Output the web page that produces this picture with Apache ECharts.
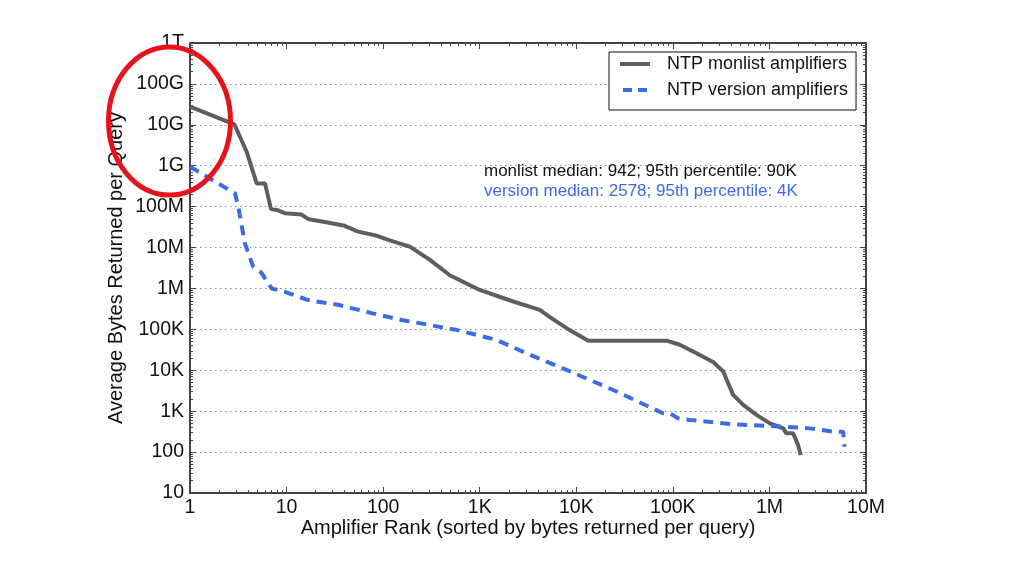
<!DOCTYPE html>
<html>
<head>
<meta charset="utf-8">
<script src="https://cdn.jsdelivr.net/npm/echarts@6/dist/echarts.min.js"></script>
<style>html,body{margin:0;padding:0;background:#fff}#c{width:1024px;height:576px}</style>
</head>
<body>
<div id="c"></div>
<script>
const xTickLabels = ['1','10','100','1K','10K','100K','1M','10M'];
const yTickLabels = ['10','100','1K','10K','100K','1M','10M','100M','1G','10G','100G','1T'];

const monlistRank  = [1, 2.88, 3.86, 4.9, 5.98, 6.9, 7.9, 9.6, 14.3, 17, 25, 40, 55, 82, 117, 189, 305, 490, 1000, 2220, 4200, 5330, 7940, 13300, 86000, 118000, 176000, 261000, 332000, 374000, 421000, 535000, 735000, 1010000, 1390000, 1500000, 1760000, 1980000, 2110000];
const monlistBytes = [2.8e10, 1.03e10, 2.2e9, 3.7e8, 3.7e8, 8.7e7, 8.3e7, 6.9e7, 6.4e7, 4.9e7, 4.2e7, 3.4e7, 2.45e7, 2.0e7, 1.5e7, 1.05e7, 5.0e6, 2.1e6, 9.2e5, 4.8e5, 3.0e5, 2.0e5, 1.07e5, 5.3e4, 5.3e4, 4.2e4, 2.6e4, 1.6e4, 9.3e3, 4.8e3, 2.5e3, 1.42e3, 810, 505, 380, 288, 288, 148, 85];

const versionRank  = [1, 2.93, 3.16, 3.7, 4.5, 5.5, 7.0, 9.6, 16.7, 34, 76, 155, 575, 1500, 3300, 7940, 24100, 79000, 93000, 113000, 150000, 421000, 1390000, 2620000, 4570000, 5800000, 6000000];
const versionBytes = [9.5e8, 2.1e8, 1.0e8, 1.27e7, 3.4e6, 2.4e6, 1.0e6, 8.3e5, 5.2e5, 4.0e5, 2.5e5, 1.7e5, 9.7e4, 5.5e4, 2.4e4, 1.02e4, 3.3e3, 890, 890, 670, 610, 480, 420, 380, 316, 316, 135];

const seriesNames = ['NTP monlist amplifiers', 'NTP version amplifiers'];
const noteLines = ['monlist median: 942; 95th percentile: 90K', 'version median: 2578; 95th percentile: 4K'];

const xMin = 1, xMax = 1e7, yMin = 10, yMax = 1e12;
function majors(lo, hi){ const a=[]; for(let v=lo; v<=hi*1.0001; v*=10) a.push(v); return a; }
function minors(lo, hi){ const a=[]; for(let v=lo; v<hi*0.9999; v*=10){ for(let k=2;k<=9;k++) a.push(v*k);} return a; }

const FONT = 'Liberation Sans';
const AX = '#444';
const BLUE = '#3d6be6';
const GRAY = '#5e5e5e';

function axis(kind, pos, isMain, isMinor){
  const lo = kind==='x'?xMin:yMin, hi = kind==='x'?xMax:yMax;
  const labels = kind==='x'?xTickLabels:yTickLabels;
  const off = kind==='x'?0:1;
  const o = {
    type:'log', logBase:10, min:lo, max:hi, position:pos,
    axisLine:{show:!isMinor, lineStyle:{color:AX, width:2}},
    axisTick:{show:true, inside:true, length:isMinor?3:6, lineStyle:{color:AX, width:1},
              customValues: isMinor?minors(lo,hi):majors(lo,hi)},
    axisLabel:{show:isMain, customValues: majors(lo,hi), margin: kind==='x'?5:6,
               fontFamily:FONT, fontSize:19.5, color:'#111',
               formatter: v => labels[Math.round(Math.log10(v)) - off]},
    splitLine:{show: isMain && kind==='y', lineStyle:{color:'#8a8a8a', width:1, type:[1.5,3.5]}},
    minorTick:{show:false}
  };
  if (isMain) {
    o.name = kind==='x' ? 'Amplifier Rank (sorted by bytes returned per query)' : 'Average Bytes Returned per Query';
    o.nameLocation = 'middle';
    o.nameMoveOverlap = false;
    o.nameGap = kind==='x' ? 25 : 64;
    o.nameTextStyle = {fontFamily:FONT, fontSize:20, color:'#111'};
  }
  return o;
}

const chart = echarts.init(document.getElementById('c'), null, {renderer:'canvas'});
chart.setOption({
  animation:false,
  backgroundColor:'#fff',
  grid:{left:190, right:158, top:43, bottom:83, containLabel:false},
  xAxis:[axis('x','bottom',true,false), axis('x','bottom',false,true), axis('x','top',false,false), axis('x','top',false,true)],
  yAxis:[axis('y','left',true,false), axis('y','left',false,true), axis('y','right',false,false), axis('y','right',false,true)],
  legend:{
    orient:'vertical', left:609, top:52,
    padding:[3,8,11,11], itemWidth:30, itemHeight:4, itemGap:8,
    borderColor:'#111', borderWidth:1, backgroundColor:'#fff',
    textStyle:{fontFamily:FONT, fontSize:18, color:'#111', padding:[0,0,0,12]},
    data: [
      {name:seriesNames[0], icon:'path://M0 0H30V4H0Z', itemStyle:{color:GRAY}},
      {name:seriesNames[1], icon:'path://M0 0H9V4H0Z M15 0H24V4H15Z', itemStyle:{color:BLUE}}
    ]
  },
  series:[
    {name:seriesNames[0], type:'line', xAxisIndex:0, yAxisIndex:0, symbol:'none', showSymbol:false,
     lineStyle:{color:GRAY, width:4}, itemStyle:{color:GRAY},
     data: monlistRank.map((r,i)=>[r, monlistBytes[i]]), z:3},
    {name:seriesNames[1], type:'line', xAxisIndex:0, yAxisIndex:0, symbol:'none', showSymbol:false,
     lineStyle:{color:BLUE, width:4, type:[10,7]}, itemStyle:{color:BLUE},
     data: versionRank.map((r,i)=>[r, versionBytes[i]]), z:4}
  ],
  graphic:[
    {type:'text', left:484, top:163, z:10, style:{text:noteLines[0], fontFamily:FONT, fontSize:17, fill:'#111'}},
    {type:'text', left:484, top:183, z:10, style:{text:noteLines[1], fontFamily:FONT, fontSize:17, fill:BLUE}},
    {type:'ellipse', z:20, shape:{cx:169.5, cy:121, rx:61, ry:74}, style:{fill:'none', stroke:'#e5141c', lineWidth:5}}
  ]
});
</script>
</body>
</html>
